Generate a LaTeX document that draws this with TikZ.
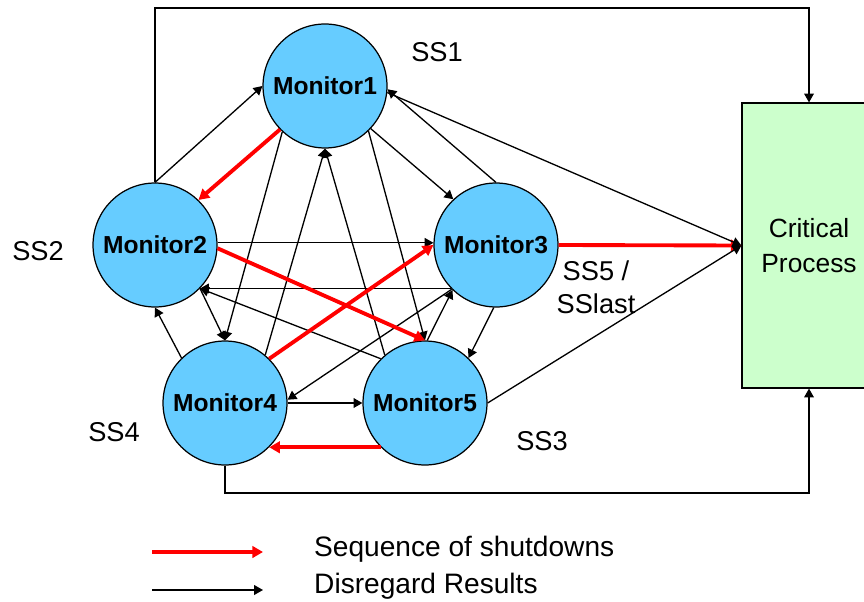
\documentclass[tikz,border=0pt]{standalone}
\usepackage{fontspec}
\setmainfont{Liberation Sans}
\usetikzlibrary{arrows.meta}

\definecolor{monitorblue}{HTML}{66CCFF}
\definecolor{processgreen}{HTML}{CCFFCC}

\def\monitorSize{2.48cm}
\def\processWidth{2.68cm}
\def\processHeight{5.7cm}
\def\railTop{8}
\def\railBottom{493}
\def\keyStartX{152}
\def\keyEndX{263}
\def\keyTextX{308}

\tikzset{
    monitor/.style = {circle, draw, line width = 0.7pt, fill = monitorblue,
        minimum size = \monitorSize, inner sep = 0pt,
        font = \fontsize{14}{16}\selectfont\bfseries},
    process/.style = {rectangle, draw, line width = 0.7pt, fill = processgreen,
        minimum width = \processWidth, minimum height = \processHeight,
        align = center, font = \fontsize{15}{19.8}\selectfont},
    stagelabel/.style = {align = center, font = \fontsize{15.5}{18.6}\selectfont},
    keytext/.style = {anchor = west, font = \fontsize{16}{19}\selectfont},
    disregard/.style = {-{Triangle[length = 5pt, width = 5.5pt]}, line width = 0.75pt},
    shutdown/.style = {-{Triangle[length = 6pt, width = 6.5pt]}, line width = 2.2pt, draw = red},
}

\begin{document}
\begin{tikzpicture}[x = 0.02cm, y = -0.02cm]
    \useasboundingbox (0,0) rectangle (864,601);
    %% monitors
    \node [monitor] (m1) at (325,86) {Monitor1};
    \node [monitor] (m2) at (155,245) {Monitor2};
    \node [monitor] (m3) at (496,245) {Monitor3};
    \node [monitor] (m4) at (225,403) {Monitor4};
    \node [monitor] (m5) at (425,403) {Monitor5};
    \node [process] (cp) at (809,245.5) {Critical\\Process};
    %% shutdown stages
    \node [stagelabel] (ss1) at (437,52) {SS1};
    \node [stagelabel] (ss2) at (38,251) {SS2};
    \node [stagelabel] (ss3) at (542,441) {SS3};
    \node [stagelabel] (ss4) at (114,432) {SS4};
    \node [stagelabel] (sslast) at (596,287) {SS5 /\\SSlast};
    %% results passed between monitors
    \foreach \from/\to in {
        m2.90/m1.180, m1.-133/m4.90, m4.50/m1.-90, m5.130/m1.-90,
        m1.-46/m5.90, m1.-43/m3.133, m3.90/m1.-3, m2.2/m3.178,
        m3.-136/m2.-44, m5.135/m2.-44, m2.-44/m4.90, m4.134/m2.-90,
        m3.-135/m4.3, m5.88/m3.-134, m3.-92/m5.46, m4.0/m5.180} {
        \draw [disregard] (\from) -- (\to);
    }
    %% sequence of shutdowns
    \foreach \from/\to in {
        m1.-136/m2.46, m2.-3/m5.90, m4.45/m3.180, m5.-135/m4.-45, m3.0/cp.west} {
        \draw [shutdown] (\from) -- (\to);
    }
    %% to the critical process
    \draw [disregard] (m1.-6) -- (cp.west);
    \draw [disregard] (m5.0) -- (cp.west);
    \coordinate (toprail) at (0,\railTop);
    \coordinate (bottomrail) at (0,\railBottom);
    \draw [disregard] (m2.north) -- (m2.north |- toprail) -| (cp.north);
    \draw [disregard] (m4.south) -- (m4.south |- bottomrail) -| (cp.south);
    %% key
    \coordinate (shutfrom) at (\keyStartX,552);
    \coordinate (shutto) at (\keyEndX,552);
    \coordinate (dropfrom) at (\keyStartX,590);
    \coordinate (dropto) at (\keyEndX,590);
    \draw [shutdown] (shutfrom) -- (shutto);
    \draw [disregard] (dropfrom) -- (dropto);
    \node [keytext] (shuttext) at (\keyTextX,549) {Sequence of shutdowns};
    \node [keytext] (droptext) at (\keyTextX,586) {Disregard Results};
\end{tikzpicture}
\end{document}
